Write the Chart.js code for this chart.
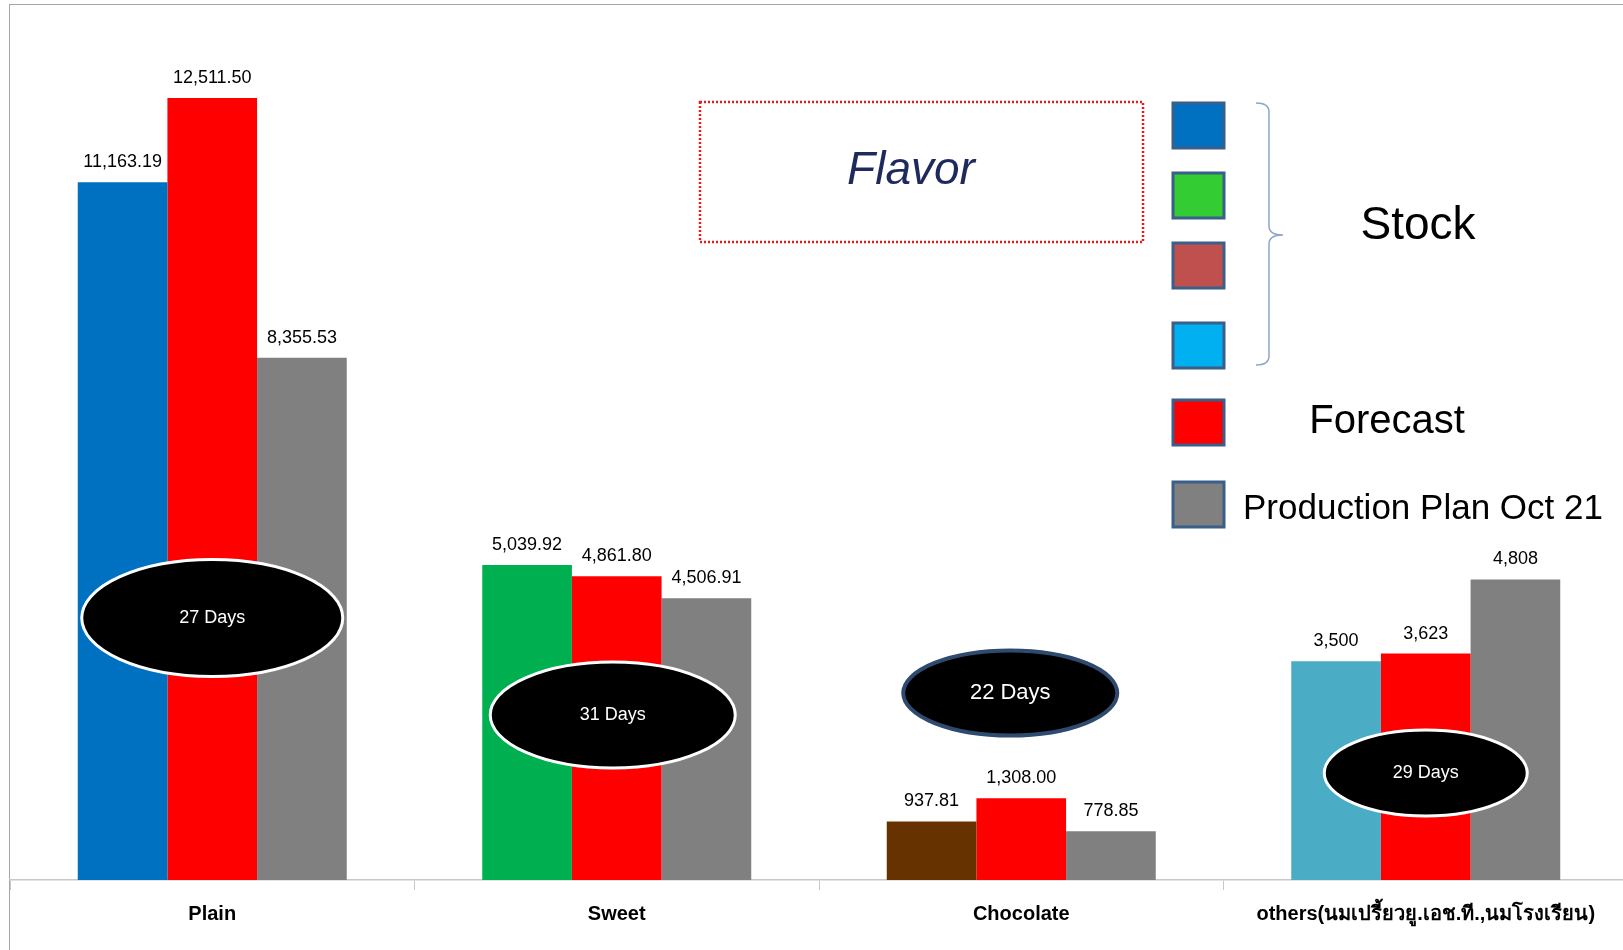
<!DOCTYPE html>
<html>
<head>
<meta charset="utf-8">
<script src="https://cdn.jsdelivr.net/npm/chart.js@4.4.0/dist/chart.umd.min.js"></script>
<style>
  html, body { margin: 0; padding: 0; background: #fff; overflow: hidden; }
  #frame { position: absolute; left: 9px; top: 4px; width: 1700px; height: 1000px; border: 1.5px solid #a6a6a6; }
  #wrap { position: absolute; left: 0; top: 0; width: 1640px; height: 950px; }
</style>
</head>
<body>
<div id="frame"></div>
<div id="wrap"><canvas id="bar-chart"></canvas></div>
<script>
var categories = ['Plain', 'Sweet', 'Chocolate', 'others(นมเปรี้ยวยู.เอช.ที.,นมโรงเรียน)'];
var stock = [11163.19, 5039.92, 937.81, 3500];
var forecast = [12511.50, 4861.80, 1308.00, 3623];
var plan = [8355.53, 4506.91, 778.85, 4808];
var decimals = [2, 2, 2, 0];
var stockDays = ['27 Days', '31 Days', '22 Days', '29 Days'];
var stockColors = ['#0070C0', '#00B050', '#663300', '#4BACC6'];
var legendStockColors = ['#0070C0', '#33CC33', '#C0504D', '#00B0F0'];

// value labels above each bar
var valueLabels = {
  id: 'valueLabels',
  afterDatasetsDraw: function (chart) {
    var ctx = chart.ctx;
    ctx.save();
    ctx.font = '18px "Liberation Sans", Arial, sans-serif';
    ctx.fillStyle = '#000';
    ctx.textAlign = 'center';
    ctx.textBaseline = 'middle';
    chart.data.datasets.forEach(function (ds, i) {
      chart.getDatasetMeta(i).data.forEach(function (bar, j) {
        var d = decimals[j];
        var txt = ds.data[j].toLocaleString('en-US', { minimumFractionDigits: d, maximumFractionDigits: d });
        ctx.fillText(txt, bar.x, bar.y - 20);
      });
    });
    ctx.restore();
  }
};

// "xx Days" ovals over each group
var dayOvals = {
  id: 'dayOvals',
  afterDatasetsDraw: function (chart) {
    var ctx = chart.ctx;
    var xs = chart.scales.x;
    var bottom = chart.chartArea.bottom;
    var ovals = [
      { dx: 0, up: 262, w: 261, h: 117, edge: '#ffffff', lw: 3, size: 18 },
      { dx: -4, up: 165, w: 245, h: 106, edge: '#ffffff', lw: 3, size: 18 },
      { dx: -11, up: 187, w: 214, h: 85, edge: '#2E4A6E', lw: 4, size: 22 },
      { dx: 0, up: 107, w: 203, h: 86, edge: '#ffffff', lw: 3, size: 18 }
    ];
    ctx.save();
    ovals.forEach(function (o, i) {
      var cx = xs.getPixelForValue(i) + o.dx;
      var cy = bottom - o.up;
      ctx.beginPath();
      ctx.ellipse(cx, cy, o.w / 2, o.h / 2, 0, 0, Math.PI * 2);
      ctx.fillStyle = '#000';
      ctx.fill();
      ctx.lineWidth = o.lw;
      ctx.strokeStyle = o.edge;
      ctx.stroke();
      ctx.fillStyle = '#fff';
      ctx.font = o.size + 'px "Liberation Sans", Arial, sans-serif';
      ctx.textAlign = 'center';
      ctx.textBaseline = 'middle';
      ctx.fillText(stockDays[i], cx, cy);
    });
    ctx.restore();
  }
};

// hand drawn legend on the right
var sideLegend = {
  id: 'sideLegend',
  afterDraw: function (chart) {
    var ctx = chart.ctx;
    ctx.save();
    // Flavor box
    ctx.setLineDash([2, 2]);
    ctx.lineWidth = 2.5;
    ctx.strokeStyle = '#E81C1C';
    ctx.strokeRect(700, 102, 443, 140);
    ctx.setLineDash([]);
    ctx.fillStyle = '#1F2A5C';
    ctx.font = 'italic 46px "Liberation Sans", Arial, sans-serif';
    ctx.textAlign = 'center';
    ctx.textBaseline = 'middle';
    ctx.fillText('Flavor', 911, 171);

    // swatches
    var sw = legendStockColors.concat(['#FF0000', '#808080']);
    var ys = [125, 195, 265, 345, 422, 504];
    ctx.lineWidth = 3;
    ctx.strokeStyle = '#3A5F8A';
    sw.forEach(function (c, k) {
      ctx.fillStyle = c;
      ctx.fillRect(1173, ys[k] - 22, 51, 45);
      ctx.strokeRect(1173, ys[k] - 22, 51, 45);
    });

    // brace
    ctx.beginPath();
    ctx.lineWidth = 1.5;
    ctx.strokeStyle = '#8EA6C8';
    ctx.moveTo(1256, 103);
    ctx.quadraticCurveTo(1269, 103, 1269, 112);
    ctx.lineTo(1269, 226);
    ctx.quadraticCurveTo(1269, 235, 1283, 235);
    ctx.quadraticCurveTo(1269, 235, 1269, 244);
    ctx.lineTo(1269, 356);
    ctx.quadraticCurveTo(1269, 365, 1256, 365);
    ctx.stroke();

    ctx.fillStyle = '#000';
    ctx.textBaseline = 'middle';
    ctx.font = '46px "Liberation Sans", Arial, sans-serif';
    ctx.fillText('Stock', 1418, 226);
    ctx.font = '40px "Liberation Sans", Arial, sans-serif';
    ctx.fillText('Forecast', 1387, 422);
    ctx.font = '35px "Liberation Sans", Arial, sans-serif';
    ctx.textAlign = 'left';
    ctx.fillText('Production Plan Oct 21', 1243, 509);
    ctx.restore();
  }
};

var data = {
  labels: categories,
  datasets: [
    { label: 'Stock', data: stock, backgroundColor: stockColors },
    { label: 'Forecast', data: forecast, backgroundColor: '#FF0000' },
    { label: 'Production Plan Oct 21', data: plan, backgroundColor: '#808080' }
  ]
};

var config = {
  type: 'bar',
  data: data,
  options: {
    responsive: true,
    maintainAspectRatio: false,
    animation: false,
    layout: { padding: { top: 5, left: 10, right: 12, bottom: 0 } },
    datasets: { bar: { barPercentage: 1, categoryPercentage: 0.665 } },
    plugins: {
      legend: { display: false },
      tooltip: { enabled: false }
    },
    scales: {
      x: {
        afterFit: function (s) { s.height = 70; },
        border: { color: '#c8c8c8', width: 1.5 },
        grid: { offset: true, drawOnChartArea: false, color: '#c8c8c8', tickLength: 10 },
        ticks: {
          color: '#000',
          padding: 12,
          font: { family: '"Liberation Sans", Arial, sans-serif', size: 20, weight: 'bold' }
        }
      },
      y: { display: false, min: 0, max: 14000 }
    }
  },
  plugins: [valueLabels, dayOvals, sideLegend]
};

var ctx = document.getElementById('bar-chart').getContext('2d');
new Chart(ctx, config);
</script>
</body>
</html>
